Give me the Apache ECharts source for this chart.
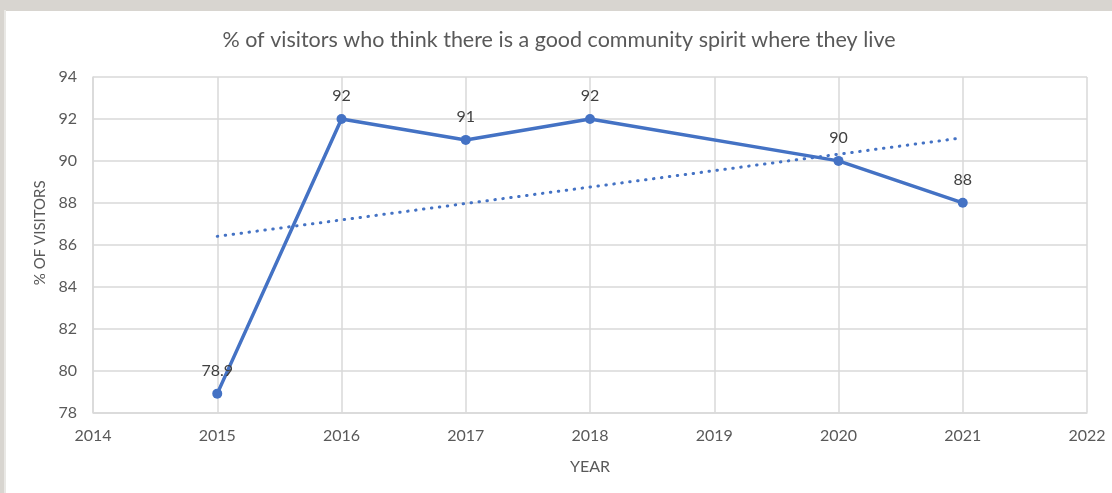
<!DOCTYPE html>
<html>
<head>
<meta charset="utf-8">
<script src="https://cdn.jsdelivr.net/npm/echarts@6/dist/echarts.min.js"></script>
<style>
  html, body { margin: 0; padding: 0; width: 1112px; height: 493px; background: #d8d5d0; overflow: hidden; }
  #edge { position: absolute; left: 4px; top: 10px; width: 2px; height: 483px; background: #e9e8e5; }
  #chart { position: absolute; left: 6px; top: 11px; width: 1106px; height: 482px; background: #ffffff; }
</style>
</head>
<body>
<div id="edge"></div>
<div id="chart"></div>
<script>
const titleText = "% of visitors who think there is a good community spirit where they live";
const years = [2015, 2016, 2017, 2018, 2020, 2021];
const values = [78.9, 92, 91, 92, 90, 88];
const trendYears = [2015, 2021];
const trendValues = [86.4, 91.1];
const yTicks = [78, 80, 82, 84, 86, 88, 90, 92, 94];
const xTicks = [2014, 2015, 2016, 2017, 2018, 2019, 2020, 2021, 2022];

const FONT = 'Lato, "Open Sans", sans-serif';
const blue = '#4472c4';
const chart = echarts.init(document.getElementById('chart'), null, { renderer: 'canvas' });
chart.setOption({
  animation: false,
  backgroundColor: '#ffffff',
  title: {
    text: titleText,
    left: 'center',
    top: 13,
    textStyle: { fontFamily: FONT, fontSize: 21.5, fontWeight: 'normal', color: '#595959' }
  },
  grid: { left: 87, right: 25, top: 66, bottom: 80.5, containLabel: false },
  xAxis: {
    type: 'value',
    min: xTicks[0],
    max: xTicks[xTicks.length - 1],
    interval: 1,
    name: 'YEAR',
    nameLocation: 'middle',
    nameGap: 46,
    nameTextStyle: { fontFamily: FONT, fontSize: 16, color: '#595959' },
    axisLine: { show: true, lineStyle: { color: '#d9d9d9', width: 1.5 } },
    axisTick: { show: false },
    splitLine: { show: true, lineStyle: { color: '#d9d9d9', width: 1.5 } },
    axisLabel: { fontFamily: FONT, fontSize: 16, color: '#595959', margin: 15, formatter: v => String(v) }
  },
  yAxis: {
    type: 'value',
    min: yTicks[0],
    max: yTicks[yTicks.length - 1],
    interval: 2,
    name: '% OF VISITORS',
    nameLocation: 'middle',
    nameGap: 45,
    nameTextStyle: { fontFamily: FONT, fontSize: 15, color: '#595959', padding: [0, 0, 0, 24] },
    axisLine: { show: true, lineStyle: { color: '#d9d9d9', width: 1.5 } },
    axisTick: { show: false },
    splitLine: { show: true, lineStyle: { color: '#d9d9d9', width: 1.5 } },
    axisLabel: { fontFamily: FONT, fontSize: 16, color: '#595959', margin: 16 }
  },
  series: [
    {
      name: 'trend',
      type: 'line',
      data: trendYears.map((y, i) => [y, trendValues[i]]),
      symbol: 'none',
      silent: true,
      lineStyle: { color: blue, width: 3, type: [0.5, 7.5], cap: 'round' },
      z: 2
    },
    {
      name: 'visitors',
      type: 'line',
      data: years.map((y, i) => [y, values[i]]),
      symbol: 'circle',
      symbolSize: 10,
      itemStyle: { color: blue },
      lineStyle: { color: blue, width: 3.5 },
      label: {
        show: true,
        position: 'top',
        distance: 10,
        fontFamily: FONT,
        fontSize: 16,
        color: '#404040'
      },
      z: 3
    }
  ]
});
</script>
</body>
</html>
